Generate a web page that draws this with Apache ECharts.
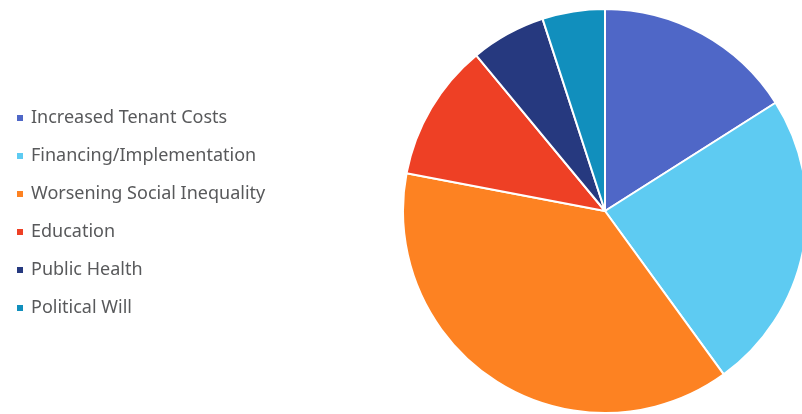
<!DOCTYPE html>
<html><head><meta charset="utf-8">
<script src="https://cdn.jsdelivr.net/npm/echarts@6/dist/echarts.min.js"></script>
<style>html,body{margin:0;padding:0;background:#fff}#c{width:802px;height:414px}</style>
</head><body><div id="c"></div>
<script>
const categories = ["Increased Tenant Costs","Financing/Implementation","Worsening Social Inequality","Education","Public Health","Political Will"];
const values = [16, 24, 38, 11, 6, 5];
const colors = ["#4f67c7","#5ecbf2","#fd8222","#ee4025","#26397f","#118fbd"];

const chart = echarts.init(document.getElementById('c'), null, {renderer:'canvas'});
chart.setOption({
  animation: false,
  color: colors,
  legend: {
    orient: 'vertical',
    left: 15,
    top: 108,
    padding: 0,
    icon: 'rect',
    itemWidth: 8,
    itemHeight: 8,
    itemGap: 18,
    textStyle: {fontFamily: 'Noto Sans', fontSize: 18, color: '#58595b', lineHeight: 20, padding:[0,0,0,2]},
    data: categories
  },
  series: [{
    type: 'pie',
    center: [605, 211],
    radius: 202,
    startAngle: 90,
    clockwise: true,
    label: {show: false},
    labelLine: {show: false},
    itemStyle: {borderColor: '#fff', borderWidth: 2},
    data: categories.map((n,i)=>({name:n, value:values[i]}))
  }]
});
</script></body></html>
